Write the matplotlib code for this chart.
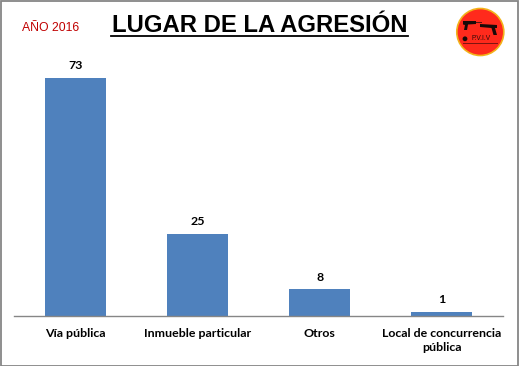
import matplotlib
matplotlib.use("Agg")
import matplotlib.pyplot as plt
from matplotlib.patches import Circle, Polygon, Rectangle

categories = ["Vía pública", "Inmueble particular", "Otros", "Local de concurrencia\npública"]
values = [73, 25, 8, 1]
title = "LUGAR DE LA AGRESIÓN"
year_label = "AÑO 2016"
logo_label = "P.V.I.V"

W, H = 519, 366
fig = plt.figure(figsize=(W / 100, H / 100), dpi=100, facecolor="white")
plt.rcParams["font.family"] = ["Liberation Sans", "DejaVu Sans"]


def px_axes(x0, y0, x1, y1, **kw):
    return fig.add_axes([x0 / W, 1 - y1 / H, (x1 - x0) / W, (y1 - y0) / H], **kw)


# Frame
fig.add_artist(Rectangle((0.5 / W, 1 - 365.5 / H), 517 / W, 365 / H, transform=fig.transFigure,
                         fill=False, edgecolor="#868686", linewidth=1.3))

# Chart
ax = px_axes(14, 78, 503, 315.5)
ax.patch.set_alpha(0)
ax.bar(range(4), values, width=0.5, color="#4F81BD", linewidth=0)
ax.set_xlim(-0.5, 3.5)
ax.set_ylim(0, 73)
for s in ("top", "left", "right"):
    ax.spines[s].set_visible(False)
ax.spines["bottom"].set_color("#868686")
ax.spines["bottom"].set_linewidth(1.0)
ax.set_yticks([])
ax.set_xticks(range(4))
ax.set_xticklabels(categories, fontsize=8.95, fontweight="bold", family="Lato",
                   color="black", linespacing=1.35)
ax.tick_params(axis="x", length=0, pad=9.2)
for i, v in enumerate(values):
    ax.annotate(str(v), (i, v), xytext=(0, 5.0), textcoords="offset points", ha="center", va="bottom",
                fontsize=8.95, fontweight="bold", family="Lato", color="black", annotation_clip=False)

# Title
fig.text(259.5 / W, 1 - 25 / H, title, ha="center", va="center", fontsize=17.2, fontweight="bold", color="black")
fig.add_artist(plt.Line2D([111 / W, 408 / W], [1 - 35.5 / H] * 2, color="black", linewidth=1.3))

# Year
fig.text(22 / W, 1 - 28 / H, year_label, ha="left", va="center", fontsize=8.8, color="#C00000")

# Logo
lg = px_axes(454, 6, 508, 60)
lg.set_xlim(454, 508)
lg.set_ylim(60, 6)
lg.axis("off")
lg.add_patch(Circle((480.3, 32), 23.5, facecolor="#FF2A1C", edgecolor="#F2B21A", linewidth=1.2))
dark = "#1a0a08"
lg.add_patch(Polygon([(463, 21), (476, 21), (476, 24), (468, 24.5), (467, 30), (464, 30), (465, 25), (463, 24.5)],
                     facecolor=dark, edgecolor="none"))
lg.add_patch(Polygon([(475, 22), (482, 22), (482, 23), (475, 23)], facecolor=dark, edgecolor="none", alpha=0.7))
lg.add_patch(Polygon([(480, 24), (497, 25), (497, 28), (495, 28), (497, 35), (493.5, 35), (491.5, 28), (480, 27)],
                     facecolor=dark, edgecolor="none"))
lg.add_patch(Circle((465, 38.8), 2.4, facecolor=dark, edgecolor="none"))
lg.text(481.5, 39, logo_label, ha="center", va="center", fontsize=4.8, color="#2a0a08")
lg.plot([463, 497], [43, 43], color="#7a1510", linewidth=0.7)

fig.savefig("out.png", dpi=100)
